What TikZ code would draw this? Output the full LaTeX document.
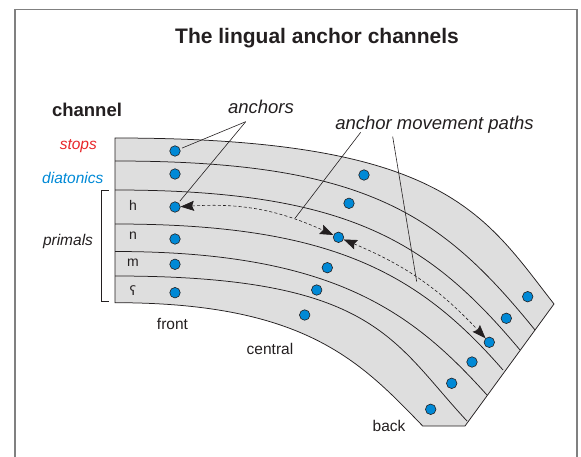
\documentclass[tikz,border=0pt]{standalone}
\usepackage{fontspec}
\setmainfont{Liberation Sans}
\newfontfamily\ipafont{DejaVu Sans}
\usetikzlibrary{arrows.meta}

\definecolor{dotblue}{RGB}{0,137,214}
\definecolor{stopred}{RGB}{232,38,42}
\definecolor{bandgray}{RGB}{222,222,222}
\definecolor{framegray}{RGB}{128,128,128}
\definecolor{inkgray}{RGB}{35,31,32}

\begin{document}
\begin{tikzpicture}[x=1pt,y=-1pt,
    anchordot/.style={circle,draw=inkgray,line width=0.6pt,fill=dotblue,inner sep=0pt,minimum size=10.5pt},
    chanline/.style={draw=inkgray,line width=0.75pt},
    pointer/.style={draw=inkgray,line width=0.6pt},
    movepath/.style={draw=inkgray,line width=0.6pt,dash pattern=on 3pt off 2.2pt},
    movetip/.tip={Stealth[length=13.5pt,width=10pt,inset=2pt]},
    lbl/.style={inner sep=0pt,anchor=base,text=inkgray,font=\fontsize{15.5}{18}\selectfont},
    biglbl/.style={inner sep=0pt,anchor=base,text=inkgray,font=\itshape\fontsize{18.5}{22}\selectfont},
    rowlbl/.style={inner sep=0pt,anchor=base,text=inkgray,font=\fontsize{14}{16}\selectfont}]
       \useasboundingbox (0,0) rectangle (581,457);

       %okvir
       \draw[framegray,line width=1.3pt] (15,460) -- (15,9.5) -- (577,9.5) -- (577,460);

       %naslov
       \node[inner sep=0pt,anchor=base,text=inkgray,font=\bfseries\fontsize{21}{25}\selectfont] (title) at (317,43.3) {The lingual anchor channels};
       \node[inner sep=0pt,anchor=base,text=inkgray,font=\bfseries\fontsize{18.5}{22}\selectfont] (channel) at (87,117) {channel};

       %kanali
       \filldraw[fill=bandgray,chanline] (115,138) .. controls (445,138) and (483.2,213.4) .. (554,304)
           -- (465,426) -- (422.7,426) .. controls (360.2,361.3) and (305,302.7) .. (115,302.7) -- cycle;
       \draw[chanline] (115,161) .. controls (365,161) and (440.6,213.4) .. (535,330);
       \draw[chanline] (115,190) .. controls (350,190) and (430,242.8) .. (520,350);
       \draw[chanline] (115,224) .. controls (330,224) and (417.7,271.9) .. (503,370);
       \draw[chanline] (115,251.5) .. controls (335,251.5) and (413.4,313.3) .. (487,395);
       \draw[chanline] (115,276) .. controls (375,276) and (392,340.6) .. (467,421);

       %oznake kanala
       \node[lbl,font=\itshape\fontsize{15.5}{18}\selectfont,text=stopred] (stops) at (78.3,150) {stops};
       \node[lbl,font=\itshape\fontsize{15.5}{18}\selectfont,text=dotblue] (diatonics) at (72.8,183.3) {diatonics};
       \node[lbl,font=\itshape\fontsize{15.5}{18}\selectfont] (primals) at (68,245) {primals};
       \draw[pointer,line width=0.8pt] (108.5,190) -- (101,190) -- (101,301) -- (108.5,301);
       \node[rowlbl] (lh) at (133,211) {h};
       \node[rowlbl] (ln) at (133,239.5) {n};
       \node[rowlbl] (lm) at (133,266.5) {m};
       \node[rowlbl,font=\ipafont\fontsize{13}{15}\selectfont] (lain) at (133,295) {ʕ};

       %sidra
       \node[anchordot] (s1) at (175,151) {};
       \node[anchordot] (s2) at (364,175) {};
       \node[anchordot] (s3) at (527.7,296.7) {};
       \node[anchordot] (d1) at (175,174) {};
       \node[anchordot] (d2) at (349,203.3) {};
       \node[anchordot] (d3) at (506.3,318.3) {};
       \node[anchordot] (h1) at (175,207) {};
       \node[anchordot] (h2) at (338.5,237.3) {};
       \node[anchordot] (h3) at (489.3,342.3) {};
       \node[anchordot] (n1) at (175,239) {};
       \node[anchordot] (n2) at (327.3,267.7) {};
       \node[anchordot] (n3) at (472,362) {};
       \node[anchordot] (m1) at (175,264.3) {};
       \node[anchordot] (m2) at (316.7,290) {};
       \node[anchordot] (m3) at (451.7,383.3) {};
       \node[anchordot] (a1) at (175,292.7) {};
       \node[anchordot] (a2) at (304.7,315) {};
       \node[anchordot] (a3) at (430.7,409.3) {};

       %putanje
       \draw[movepath,movetip-movetip] (h1) to[bend left=14] (h2);
       \draw[movepath,movetip-movetip] (h2) to[bend left=12] (h3);

       %front central back
       \node[lbl] (front) at (172.5,329.3) {front};
       \node[lbl] (central) at (270,354) {central};
       \node[lbl] (back) at (389,431.7) {back};

       %strelice do oznaka
       \node[biglbl] (anchorslbl) at (261,114) {anchors};
       \coordinate (ap) at (245.7,121.7);
       \draw[pointer,shorten >=2pt] (ap) -- (s1);
       \draw[pointer,shorten >=2pt] (ap) -- (h1);

       \node[biglbl] (pathslbl) at (434.5,130) {anchor movement paths};
       \coordinate (pa) at (360.7,132.3);
       \coordinate (pb) at (392.7,136.7);
       \coordinate (mp1) at (295,218.3);
       \coordinate (mp2) at (416.7,281.7);
       \draw[pointer] (pa) -- (mp1);
       \draw[pointer] (pb) -- (mp2);
\end{tikzpicture}
\end{document}
